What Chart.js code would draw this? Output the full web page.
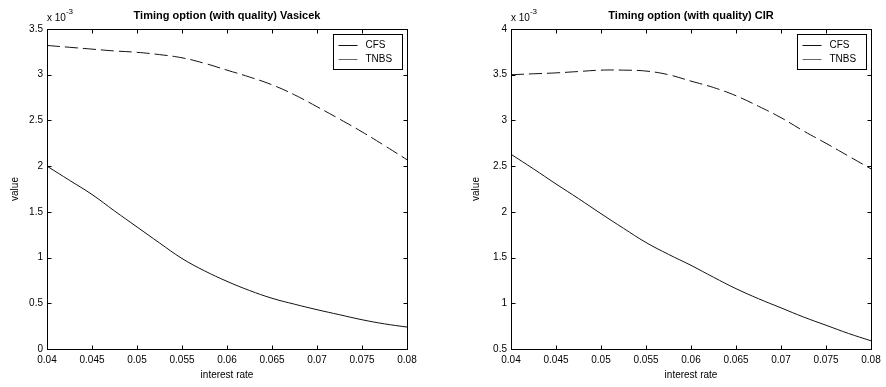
<!DOCTYPE html>
<html lang="en">
<head>
<meta charset="UTF-8">
<title>Timing option (with quality)</title>
<script src="https://cdn.jsdelivr.net/npm/chart.js"></script>
<style>
  body { margin: 0; background: #fff; }
  .wrap { position: relative; width: 886px; height: 387px; }
  .panel { position: absolute; top: 0; width: 443px; height: 387px; }
</style>
</head>
<body>
<div class="wrap">
  <div class="panel" style="left:0"><canvas id="vasicekChart" width="443" height="387"></canvas></div>
  <div class="panel" style="left:443px"><canvas id="cirChart" width="443" height="387"></canvas></div>
</div>

<script>
  // interest rates on the x axis
  const rates = [0.04, 0.0425, 0.045, 0.0475, 0.05, 0.0525, 0.055, 0.0575, 0.06,
                 0.0625, 0.065, 0.0675, 0.07, 0.0725, 0.075, 0.0775, 0.08];

  // values in units of 1e-3
  const vasicekCFS  = [2.00, 1.845, 1.69, 1.51, 1.335, 1.16, 0.99, 0.855, 0.74,
                       0.64, 0.555, 0.49, 0.43, 0.375, 0.32, 0.275, 0.24];
  const vasicekTNBS = [3.32, 3.30, 3.28, 3.26, 3.245, 3.22, 3.185, 3.125, 3.05,
                       2.975, 2.89, 2.78, 2.65, 2.515, 2.375, 2.225, 2.07];
  const cirCFS      = [2.63, 2.47, 2.305, 2.145, 1.98, 1.82, 1.665, 1.535, 1.415,
                       1.285, 1.16, 1.05, 0.95, 0.85, 0.76, 0.67, 0.59];
  const cirTNBS     = [3.50, 3.51, 3.52, 3.535, 3.55, 3.55, 3.54, 3.50, 3.43,
                       3.36, 3.27, 3.155, 3.03, 2.885, 2.75, 2.61, 2.47];

  const seriesNames = ['CFS', 'TNBS'];
  const xTicks = [0.04, 0.08, 0.005];       // min, max, step
  const vasicekYTicks = [0, 3.5, 0.5];
  const cirYTicks = [0.5, 4, 0.5];

  const FONT = '"Liberation Sans", Arial, sans-serif';

  // draws the MATLAB-like box, inward ticks, title, exponent and legend
  const matlabFrame = {
    id: 'matlabFrame',
    afterDraw(chart, args, opts) {
      const ctx = chart.ctx;
      const a = chart.chartArea;
      const L = Math.round(a.left) + 0.5, R = Math.round(a.right) + 0.5;
      const T = Math.round(a.top) + 0.5, B = Math.round(a.bottom) + 0.5;
      ctx.save();
      ctx.strokeStyle = '#000';
      ctx.lineWidth = 1;
      ctx.strokeRect(L, T, R - L, B - T);

      // ticks
      ctx.beginPath();
      const xs = chart.scales.x, ys = chart.scales.y;
      xs.ticks.forEach(t => {
        const px = Math.round(xs.getPixelForValue(t.value)) + 0.5;
        ctx.moveTo(px, B); ctx.lineTo(px, B - 4);
        ctx.moveTo(px, T); ctx.lineTo(px, T + 4);
      });
      ys.ticks.forEach(t => {
        const py = Math.round(ys.getPixelForValue(t.value)) + 0.5;
        ctx.moveTo(L, py); ctx.lineTo(L + 4, py);
        ctx.moveTo(R, py); ctx.lineTo(R - 4, py);
      });
      ctx.stroke();

      // title
      ctx.fillStyle = '#000';
      ctx.font = 'bold 11px ' + FONT;
      ctx.textAlign = 'center';
      ctx.textBaseline = 'middle';
      ctx.fillText(opts.title, (a.left + a.right) / 2, 16);

      // exponent
      ctx.textAlign = 'left';
      ctx.font = '10px ' + FONT;
      ctx.fillText('x 10', a.left, 18);
      const w = ctx.measureText('x 10').width;
      ctx.font = '8px ' + FONT;
      ctx.fillText('-3', a.left + w, 12);

      // legend
      const lw = 69, lh = 35;
      const lx = Math.round(a.right) - 74 + 0.5, ly = Math.round(a.top) + 5 + 0.5;
      ctx.fillStyle = '#fff';
      ctx.fillRect(lx, ly, lw, lh);
      ctx.strokeStyle = '#000';
      ctx.strokeRect(lx, ly, lw, lh);
      ctx.font = '10px ' + FONT;
      chart.data.datasets.forEach((ds, i) => {
        const y = Math.round(ly + 10 + i * 14) + 0.5;
        ctx.beginPath();
        // the dashed sample is shorter than one dash, so it shows as one lighter stroke
        ctx.strokeStyle = ds.borderDash ? '#666' : ds.borderColor;
        ctx.moveTo(lx + 5, y);
        ctx.lineTo(lx + 24, y);
        ctx.stroke();
        ctx.fillStyle = '#000';
        ctx.fillText(ds.label, lx + 32, y);
      });
      ctx.restore();
    }
  };

  function makeChart(id, title, cfs, tnbs, yTicks, axisLeft, yTitlePad) {
    const ctx = document.getElementById(id).getContext('2d');
    return new Chart(ctx, {
      type: 'line',
      data: {
        datasets: [
          {
            label: seriesNames[0],
            data: rates.map((r, i) => ({ x: r, y: cfs[i] })),
            borderColor: '#111',
            borderWidth: 1,
            pointRadius: 0,
            tension: 0.4,
            fill: false
          },
          {
            label: seriesNames[1],
            data: rates.map((r, i) => ({ x: r, y: tnbs[i] })),
            borderColor: '#111',
            borderWidth: 1,
            borderDash: [13, 5],
            pointRadius: 0,
            tension: 0.4,
            fill: false
          }
        ]
      },
      options: {
        responsive: false,
        animation: false,
        devicePixelRatio: 1,
        layout: { padding: { left: 0, right: 443 - axisLeft - 360, top: 29, bottom: 0 } },
        plugins: {
          legend: { display: false },
          tooltip: { enabled: false },
          matlabFrame: { title: title }
        },
        scales: {
          x: {
            type: 'linear',
            min: xTicks[0],
            max: xTicks[1],
            grid: { display: false, drawTicks: false },
            border: { display: false },
            ticks: {
              stepSize: xTicks[2],
              padding: 5,
              color: '#000',
              font: { family: FONT, size: 10 },
              maxRotation: 0,
              callback: v => String(+v.toFixed(3))
            },
            title: {
              display: true,
              text: 'interest rate',
              color: '#000',
              font: { family: FONT, size: 10 },
              padding: { top: 0, bottom: 6 }
            },
            afterFit: s => { s.height = 38; }
          },
          y: {
            type: 'linear',
            min: yTicks[0],
            max: yTicks[1],
            grid: { display: false, drawTicks: false },
            border: { display: false },
            ticks: {
              stepSize: yTicks[2],
              padding: 4,
              color: '#000',
              font: { family: FONT, size: 10 },
              callback: v => String(+v.toFixed(1))
            },
            title: {
              display: true,
              text: 'value',
              color: '#000',
              font: { family: FONT, size: 10 },
              padding: { top: yTitlePad, bottom: 0 }
            },
            afterFit: s => { s.width = axisLeft; }
          }
        }
      },
      plugins: [matlabFrame]
    });
  }

  makeChart('vasicekChart', 'Timing option (with quality) Vasicek',
            vasicekCFS, vasicekTNBS, vasicekYTicks, 47, 9);
  makeChart('cirChart', 'Timing option (with quality) CIR',
            cirCFS, cirTNBS, cirYTicks, 68, 27);
</script>
</body>
</html>
